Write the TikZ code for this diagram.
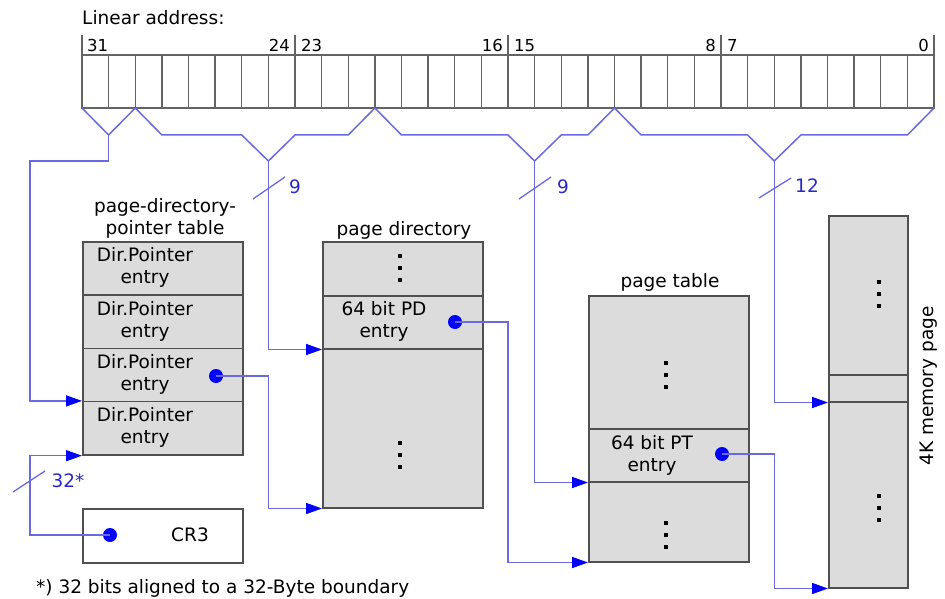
\documentclass[tikz,border=0pt]{standalone}
\usepackage{fontspec}
\setmainfont{DejaVu Sans}
\usetikzlibrary{arrows.meta}
\definecolor{wire}{RGB}{105,105,225}
\definecolor{tipblue}{RGB}{0,0,255}
\definecolor{lbl}{RGB}{40,40,200}
\definecolor{boxfill}{RGB}{220,220,220}
\definecolor{boxline}{RGB}{80,80,80}
\definecolor{gridline}{RGB}{100,100,100}
\newcommand\myvdots[2]{\foreach \dy in {-12,0,12}{\fill (#1-2.3,#2+\dy-2.3) rectangle ++(4.6,4.6);}}
\begin{document}
\begin{tikzpicture}[x=1pt,y=-1pt,
  txt/.style={font=\fontsize{18.5}{22}\selectfont, inner sep=0pt, align=center},
  bitnum/.style={font=\fontsize{16.5}{19}\selectfont, inner sep=0pt},
  cell/.style={draw=boxline, line width=1.5pt, fill=boxfill, inner sep=0pt, minimum width=160pt},
  wirepath/.style={draw=wire, line width=1.5pt},
  arr/.style={wirepath, -{Triangle[length=16pt,width=11pt,color=tipblue,fill=tipblue]}},
  dotpin/.style={circle, fill=tipblue, inner sep=0pt, minimum size=14pt},
  bus/.style={draw=wire, line width=1.3pt},
  buslabel/.style={txt, text=lbl},
  grid/.style={draw=gridline, line width=1.4pt},
]
\useasboundingbox (0,0) rectangle (945,599);

% ---------- linear address bit field ----------
\node[txt, anchor=west] (title) at (82,18) {Linear address:};
\draw[grid] (82,55) rectangle (934,108);
\foreach \i in {1,...,31}{\draw[grid] ({82+\i*26.625},55) -- ({82+\i*26.625},108);}
\foreach \i in {0,8,16,24,32}{\draw[grid] ({82+\i*26.625},35) -- ({82+\i*26.625},55);}
\node[bitnum, anchor=base west] (b31) at (87,52) {31};
\node[bitnum, anchor=base east] (b24) at (290,52) {24};
\node[bitnum, anchor=base west] (b23) at (301,52) {23};
\node[bitnum, anchor=base east] (b16) at (503,52) {16};
\node[bitnum, anchor=base west] (b15) at (514,52) {15};
\node[bitnum, anchor=base east] (b8) at (716,52) {8};
\node[bitnum, anchor=base west] (b7) at (727,52) {7};
\node[bitnum, anchor=base east] (b0) at (929,52) {0};

% bit group collectors
\coordinate (v1) at (108.6,135);
\coordinate (v2) at (268.4,161);
\coordinate (v3) at (534.6,161);
\coordinate (v4) at (774.25,161);
\draw[wirepath] (82,108) -- (v1) -- (135.25,108);
\draw[wirepath] (135.25,108) -- (161.9,135) -- (241.75,135) -- (v2) -- (295,135) -- (348.25,135) -- (374.9,108);
\draw[wirepath] (374.9,108) -- (401.5,135) -- (508,135) -- (v3) -- (561.25,135) -- (587.9,135) -- (614.5,108);
\draw[wirepath] (614.5,108) -- (641.1,135) -- (747.6,135) -- (v4) -- (800.9,135) -- (907.4,135) -- (934,108);

% ---------- page-directory-pointer table ----------
\node[txt] (lpdpt) at (165,218) {page-directory-\\pointer table};
\node[cell, minimum height=53.3pt, anchor=north west] (pdpt1) at (82,241) {};
\node[cell, minimum height=53.3pt, anchor=north west] (pdpt2) at (82,294.3) {};
\node[cell, minimum height=53.3pt, anchor=north west] (pdpt3) at (82,347.6) {};
\node[cell, minimum height=53.3pt, anchor=north west] (pdpt4) at (82,400.9) {};
\node[txt] (tp1) at (145,267.6) {Dir.Pointer\\entry};
\node[txt] (tp2) at (145,321) {Dir.Pointer\\entry};
\node[txt] (tp3) at (145,374.3) {Dir.Pointer\\entry};
\node[txt] (tp4) at (145,427.6) {Dir.Pointer\\entry};
\node[dotpin] (pdptpin) at (216,376) {};

% ---------- CR3 ----------
\node[draw=boxline, line width=1.5pt, fill=white, inner sep=0pt, minimum width=160pt, minimum height=54pt, anchor=north west] (cr3) at (82,508) {};
\node[txt] (tcr3) at (190,535) {CR3};
\node[dotpin] (crpin) at (110,535) {};

% ---------- page directory ----------
\node[txt] (lpd) at (404,230) {page directory};
\node[cell, minimum height=54pt, anchor=north west] (pd1) at (322,241) {};
\node[cell, minimum height=53pt, anchor=north west] (pd2) at (322,295) {};
\node[cell, minimum height=159pt, anchor=north west] (pd3) at (322,348) {};
\node[txt] (tpd) at (384,321) {64 bit PD\\entry};
\node[dotpin] (pdpin) at (455,322) {};
\myvdots{400}{268}
\myvdots{400}{455}

% ---------- page table ----------
\node[txt] (lpt) at (670,282) {page table};
\node[cell, minimum height=133pt, anchor=north west] (pt1) at (588,295) {};
\node[cell, minimum height=53pt, anchor=north west] (pt2) at (588,428) {};
\node[cell, minimum height=80pt, anchor=north west] (pt3) at (588,481) {};
\node[txt] (tpt) at (652,455) {64 bit PT\\entry};
\node[dotpin] (ptpin) at (722,454) {};
\myvdots{666}{375}
\myvdots{666}{535}

% ---------- 4K memory page ----------
\node[cell, minimum width=79pt, minimum height=159pt, anchor=north west] (m1) at (828,215) {};
\node[cell, minimum width=79pt, minimum height=27pt, anchor=north west] (m2) at (828,374) {};
\node[cell, minimum width=79pt, minimum height=186pt, anchor=north west] (m3) at (828,401) {};
\node[txt, rotate=90] (lmem) at (929,386) {4K memory page};
\myvdots{879}{294}
\myvdots{879}{508}

% ---------- connectors ----------
\draw[arr] (v1) -- (108.6,161) -- (30,161) |- (pdpt4.north west);
\draw[arr] (v2) |- (pd2.south west);
\draw[arr] (v3) |- (pt2.south west);
\draw[arr] (v4) |- (m2.south west);
\draw[arr] (pdptpin.center) -- (pdptpin.center -| v2) |- (pd3.south west);
\draw[arr] (crpin.center) -- (30,535) |- (pdpt4.south west);
\draw[arr] (pdpin.center) -- (508,322) |- (pt3.south west);
\draw[arr] (ptpin.center) -- (ptpin.center -| v4) |- (m3.south west);

% bus width marks
\draw[bus] (253,199) -- (285,177);
\node[buslabel] (n9a) at (295,187) {9};
\draw[bus] (519,199) -- (551,177);
\node[buslabel] (n9b) at (563,187) {9};
\draw[bus] (759,198) -- (791,178);
\node[buslabel] (n12) at (807,186) {12};
\draw[bus] (13,492) -- (45,471);
\node[buslabel] (n32) at (68,481) {32*};

% footnote
\node[txt, anchor=base west] (foot) at (36,593) {*) 32 bits aligned to a 32-Byte boundary};
\end{tikzpicture}
\end{document}
